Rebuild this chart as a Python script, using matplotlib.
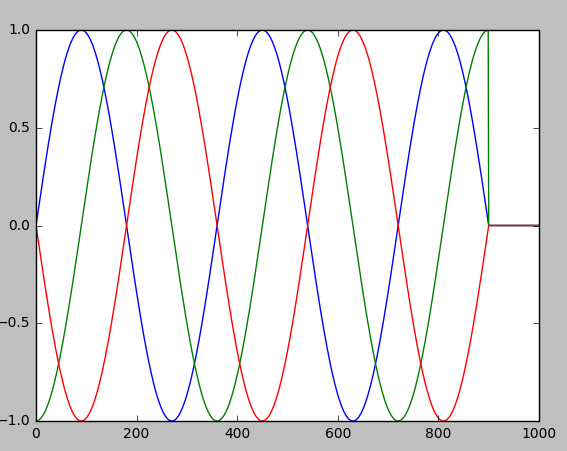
import numpy as np
import matplotlib
matplotlib.use("Agg")
import matplotlib.pyplot as plt

plt.style.use("classic")
plt.rcParams["font.size"] = 10

n_total = 1000
n_wave = 900
period = 360.0

x = np.arange(n_total)
phase = np.deg2rad(x[:n_wave] * 360.0 / period)

blue = np.zeros(n_total)
green = np.zeros(n_total)
red = np.zeros(n_total)
blue[:n_wave] = np.sin(phase)
green[:n_wave] = -np.cos(phase)
red[:n_wave] = -np.sin(phase)

fig = plt.figure(figsize=(5.67, 4.51), dpi=100, facecolor="0.75")
ax = fig.add_axes([36 / 567, 30 / 451, (539 - 36) / 567, (421 - 30) / 451])
ax.plot(x, blue, color="b")
ax.plot(x, green, color="g")
ax.plot(x, red, color="r")
ax.set_xlim(0, 1000)
ax.set_ylim(-1, 1)
ax.set_yticks([-1.0, -0.5, 0.0, 0.5, 1.0])
fig.savefig("out.png", dpi=100, facecolor=fig.get_facecolor())
